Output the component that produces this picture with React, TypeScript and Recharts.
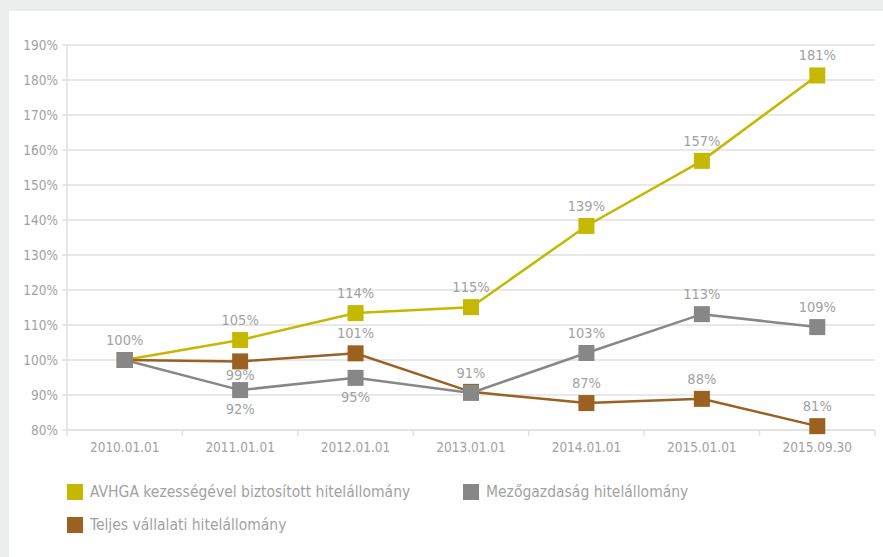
import React from 'react';
import { LineChart, Line, XAxis, YAxis, CartesianGrid, Legend, LabelList } from 'recharts';

const categories = ['2010.01.01', '2011.01.01', '2012.01.01', '2013.01.01', '2014.01.01', '2015.01.01', '2015.09.30'];
const avhgaValues = [100, 105.7, 113.4, 115.1, 138.3, 156.9, 181.3];
const mezoValues = [100, 91.4, 94.9, 90.6, 102.0, 113.1, 109.4];
const teljesValues = [100, 99.6, 101.9, 90.9, 87.7, 88.9, 81.1];
const avhgaLabels = ['100%', '105%', '114%', '115%', '139%', '157%', '181%'];
const mezoLabels = ['', '92%', '95%', '91%', '103%', '113%', '109%'];
const teljesLabels = ['', '99%', '101%', '', '87%', '88%', '81%'];
const yTicks = [80, 90, 100, 110, 120, 130, 140, 150, 160, 170, 180, 190];

const avhgaPlace = ['top', 'top', 'top', 'top', 'top', 'top', 'top'];
const mezoPlace = ['', 'bottom', 'bottom', 'top', 'top', 'top', 'top'];
const teljesPlace = ['', 'bottomNear', 'top', '', 'top', 'top', 'top'];

const seriesNames = {
  avhga: 'AVHGA kezességével biztosított hitelállomány',
  mezo: 'Mezőgazdaság hitelállomány',
  teljes: 'Teljes vállalati hitelállomány',
};

const COLORS = { avhga: '#c4b800', mezo: '#878787', teljes: '#9a6121' };
const TEXT = '#a2a2a2';
const GRID = '#e0e0e0';
const FONT = "'DejaVu Sans Condensed', 'DejaVu Sans', sans-serif";
const TICK_FS = 13.5;
const LABEL_FS = 14.5;

const data = categories.map((c, i) => ({
  cat: c,
  avhga: avhgaValues[i],
  mezo: mezoValues[i],
  teljes: teljesValues[i],
}));

const CHART_W = 874;
const CHART_H = 546;
const PLOT_W = 808;
const BAND = PLOT_W / categories.length;

const XTick = (props: any) => {
  const { x, y, payload, index } = props;
  const half = BAND / 2;
  return (
    <g>
      {index === 0 && <line x1={x - half} x2={x - half} y1={y} y2={y + 6} stroke={GRID} strokeWidth={1.5} />}
      <line x1={x + half} x2={x + half} y1={y} y2={y + 6} stroke={GRID} strokeWidth={1.5} />
      <text x={x} y={y + 17} textAnchor="middle" dominantBaseline="central" fill={TEXT} fontSize={TICK_FS} fontFamily={FONT}>
        {payload.value}
      </text>
    </g>
  );
};

const makeDot = (color: string) => (props: any) => {
  const { cx, cy, index } = props;
  return <rect key={`d-${color}-${index}`} x={cx - 8} y={cy - 8} width={16} height={16} fill={color} />;
};

const makeLabel = (labels: string[], place: string[]) => (props: any) => {
  const { x, y, index } = props;
  const t = labels[index];
  if (!t) return null;
  const p = place[index];
  const dy = p === 'top' ? -20 : p === 'bottomNear' ? 14 : 19;
  return (
    <text key={`l-${index}-${t}`} x={x} y={y + dy} textAnchor="middle" dominantBaseline="central" fill={TEXT} fontSize={LABEL_FS} fontFamily={FONT}>
      {t}
    </text>
  );
};

const legendOrder: Array<'avhga' | 'mezo' | 'teljes'> = ['avhga', 'mezo', 'teljes'];

const LegendContent = () => (
  <div style={{ display: 'flex', flexWrap: 'wrap', width: 820, paddingLeft: 58, fontFamily: FONT }}>
    {legendOrder.map((k) => (
      <div key={k} style={{ width: 396, height: 33, display: 'flex', alignItems: 'center' }}>
        <span style={{ display: 'inline-block', width: 16, height: 16, background: COLORS[k], marginRight: 7, flexShrink: 0 }} />
        <span style={{ color: TEXT, fontSize: 15.5 }}>{seriesNames[k]}</span>
      </div>
    ))}
  </div>
);

export default function App() {
  return (
    <div style={{ position: 'absolute', left: 0, top: 0, width: 883, height: 557, background: '#eceeed', overflow: 'hidden' }}>
      <div style={{ position: 'absolute', left: 9, top: 11, width: CHART_W, height: CHART_H, background: '#ffffff' }}>
        <LineChart width={CHART_W} height={CHART_H} data={data} margin={{ top: 34, right: 8, left: 0, bottom: 31 }}>
          <CartesianGrid vertical={false} stroke={GRID} strokeWidth={1.5} />
          <XAxis
            dataKey="cat"
            height={30}
            padding={{ left: BAND / 2, right: BAND / 2 }}
            axisLine={{ stroke: GRID, strokeWidth: 1.5 }}
            tickLine={false}
            tickSize={0}
            tickMargin={0}
            tick={<XTick />}
            interval={0}
          />
          <YAxis
            width={58}
            domain={[80, 190]}
            ticks={yTicks}
            interval={0}
            axisLine={{ stroke: GRID, strokeWidth: 1.5 }}
            tickLine={{ stroke: GRID, strokeWidth: 1.5 }}
            tickSize={5}
            tickMargin={4}
            tickFormatter={(v: number) => `${v}%`}
            tick={{ fill: TEXT, fontSize: TICK_FS, fontFamily: FONT }}
          />
          <Legend
            verticalAlign="bottom"
            height={66}
            wrapperStyle={{ left: 0, top: 464 }}
            content={<LegendContent />}
          />
          <Line dataKey="avhga" name={seriesNames.avhga} stroke={COLORS.avhga} strokeWidth={2.5} dot={makeDot(COLORS.avhga)} activeDot={false} isAnimationActive={false}>
            <LabelList dataKey="avhga" content={makeLabel(avhgaLabels, avhgaPlace)} />
          </Line>
          <Line dataKey="teljes" name={seriesNames.teljes} stroke={COLORS.teljes} strokeWidth={2.5} dot={makeDot(COLORS.teljes)} activeDot={false} isAnimationActive={false}>
            <LabelList dataKey="teljes" content={makeLabel(teljesLabels, teljesPlace)} />
          </Line>
          <Line dataKey="mezo" name={seriesNames.mezo} stroke={COLORS.mezo} strokeWidth={2.5} dot={makeDot(COLORS.mezo)} activeDot={false} isAnimationActive={false}>
            <LabelList dataKey="mezo" content={makeLabel(mezoLabels, mezoPlace)} />
          </Line>
        </LineChart>
      </div>
    </div>
  );
}
